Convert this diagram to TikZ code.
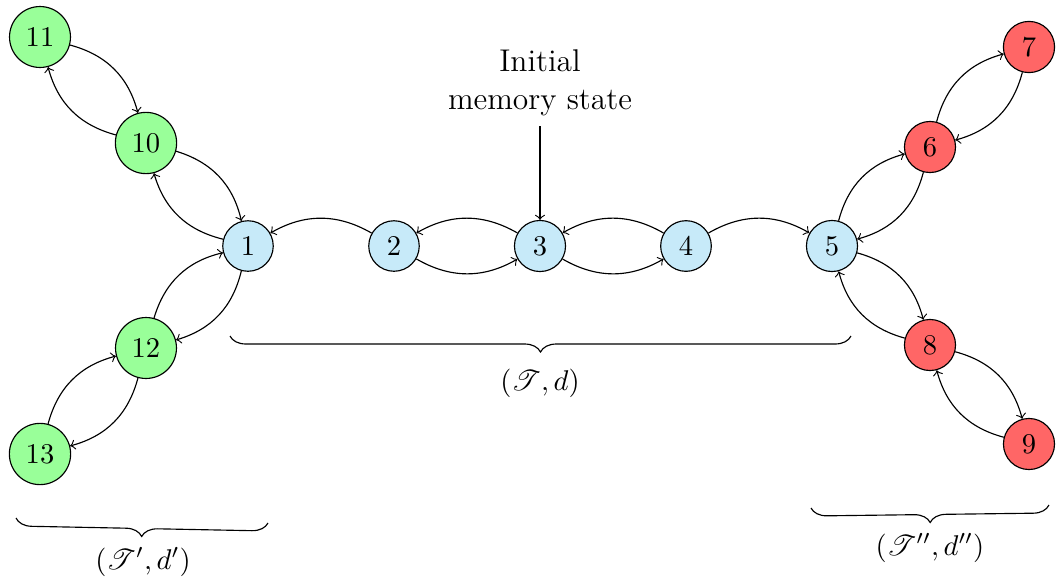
\documentclass[tikz,border=0pt]{standalone}
\usepackage{mathrsfs}
\usetikzlibrary{decorations.pathreplacing}
\definecolor{nodeblue}{RGB}{199,234,249}
\definecolor{nodegreen}{RGB}{153,255,153}
\definecolor{nodered}{RGB}{255,102,102}
\begin{document}
\begin{tikzpicture}[x=0.35pt,y=0.35pt,
  st/.style={circle,draw,thin},
  bl/.style={st,fill=nodeblue},
  gr/.style={st,fill=nodegreen},
  rd/.style={st,fill=nodered},
  edge/.style={->},
  br/.style={decorate,decoration={brace,mirror,amplitude=5.6pt}},
  lbl/.style={inner sep=0pt}]
\useasboundingbox (0,0) rectangle (1056,580);
% central chain
\node[bl] (n1) at (248,334) {1};
\node[bl] (n2) at (394,334) {2};
\node[bl] (n3) at (540,334) {3};
\node[bl] (n4) at (686,334) {4};
\node[bl] (n5) at (832,334) {5};
% left (green)
\node[gr] (n10) at (146,437) {10};
\node[gr] (n11) at (40,543) {11};
\node[gr] (n12) at (146,232) {12};
\node[gr] (n13) at (40,126) {13};
% right (red)
\node[rd] (n6) at (930,433) {6};
\node[rd] (n7) at (1029,533) {7};
\node[rd] (n8) at (930,235) {8};
\node[rd] (n9) at (1029,136) {9};
% initial state
\node[anchor=south,align=center,font=\fontsize{11}{13.2}\selectfont] (init) at (540,454) {Initial\\memory state};
\draw[edge] (init) -- (n3);
% central edges
\draw[edge] (n2) to[bend right] (n1);
\draw[edge] (n3) to[bend right] (n2);
\draw[edge] (n2) to[bend right] (n3);
\draw[edge] (n4) to[bend right] (n3);
\draw[edge] (n3) to[bend right] (n4);
\draw[edge] (n4) to[bend left] (n5);
% left edges
\draw[edge] (n11) to[bend left] (n10);
\draw[edge] (n10) to[bend left] (n11);
\draw[edge] (n10) to[bend left] (n1);
\draw[edge] (n1) to[bend left] (n10);
\draw[edge] (n12) to[bend left] (n1);
\draw[edge] (n1) to[bend left] (n12);
\draw[edge] (n13) to[bend left] (n12);
\draw[edge] (n12) to[bend left] (n13);
% right edges
\draw[edge] (n5) to[bend left] (n6);
\draw[edge] (n6) to[bend left] (n5);
\draw[edge] (n6) to[bend left] (n7);
\draw[edge] (n7) to[bend left] (n6);
\draw[edge] (n5) to[bend left] (n8);
\draw[edge] (n8) to[bend left] (n5);
\draw[edge] (n8) to[bend left] (n9);
\draw[edge] (n9) to[bend left] (n8);
% braces
\coordinate (bca) at (230,244);
\coordinate (bcb) at (851,244);
\coordinate (bla) at (16,62);
\coordinate (blb) at (268,57);
\coordinate (bra) at (811,72);
\coordinate (brb) at (1049,75);
\draw[br] (bca) -- (bcb);
\draw[br] (bla) -- (blb);
\draw[br] (bra) -- (brb);
\node[lbl] (lc) at (540,197) {$(\mathscr{T},d)$};
\node[lbl] (ll) at (143,18) {$(\mathscr{T}',d')$};
\node[lbl] (lr) at (930,32) {$(\mathscr{T}'',d'')$};
\end{tikzpicture}
\end{document}
